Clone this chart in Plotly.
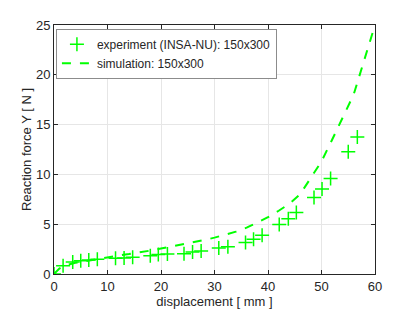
import plotly.graph_objects as go

exp_x = [0, 1.7, 3.5, 5.0, 6.5, 8.1, 11.5, 13.1, 14.7, 18.0, 19.5, 21.2, 24.3, 25.9, 27.5,
         30.8, 32.5, 35.8, 37.3, 38.9, 42.1, 43.8, 45.3, 48.6, 50.1, 51.7, 55.0, 56.7]
exp_y = [0, 0.83, 1.2, 1.33, 1.4, 1.47, 1.57, 1.6, 1.67, 1.84, 1.97, 2.0, 2.04, 2.2, 2.3,
         2.6, 2.74, 3.17, 3.5, 3.9, 4.97, 5.54, 6.17, 7.68, 8.54, 9.6, 12.28, 13.75]

sim_x = [0, 1, 2, 3, 4, 6, 8, 10, 12, 14, 16, 18, 20, 22, 24, 26, 28, 30, 32, 34, 36, 38,
         40, 42, 44, 46, 48, 50, 52, 54, 56, 58, 60]
sim_y = [0, 0.55, 0.85, 1.0, 1.12, 1.3, 1.5, 1.7, 1.85, 2.0, 2.15, 2.35, 2.55, 2.75, 2.95,
         3.15, 3.4, 3.65, 3.95, 4.25, 4.65, 5.15, 5.7, 6.35, 7.05, 8.0, 9.6, 11.3, 13.5,
         15.75, 18.0, 21.5, 25.0]

x_ticks = [0, 10, 20, 30, 40, 50, 60]
y_ticks = [0, 5, 10, 15, 20, 25]

GREEN = "#00ff00"
AX = "#262626"
font = dict(family="Liberation Sans, Arial, sans-serif", size=13, color=AX)
legfont = dict(family="Liberation Sans, Arial, sans-serif", size=12, color=AX)

fig = go.Figure()
fig.add_trace(go.Scatter(
    x=exp_x, y=exp_y, mode="markers", name="experiment (INSA-NU): 150x300",
    marker=dict(symbol="cross-thin-open", size=10, line=dict(color=GREEN, width=1.5), color=GREEN),
))
fig.add_trace(go.Scatter(
    x=sim_x, y=sim_y, mode="lines", name="simulation: 150x300",
    line=dict(color=GREEN, width=2, dash="dash"),
))

axis_common = dict(
    showgrid=True, gridcolor="#e6e6e6", gridwidth=1,
    showline=True, linecolor=AX, linewidth=1, mirror="ticks",
    ticks="inside", ticklen=4, tickcolor=AX,
    zeroline=False, tickfont=font, automargin=False,
)
fig.update_xaxes(range=[0, 60], tickvals=x_ticks, title=dict(text="displacement [ mm ]", font=font, standoff=2), **axis_common)
fig.update_yaxes(range=[0, 25], tickvals=y_ticks, title=dict(text="Reaction force Y [ N ]", font=font, standoff=1), **axis_common)

# page body has an 8px margin, so the figure is drawn 8px in from the window edge
fig.update_layout(
    width=407, height=303,
    margin=dict(l=46, r=40, t=17, b=37),
    paper_bgcolor="white", plot_bgcolor="white",
    font=font,
    showlegend=True,
    legend=dict(x=0.006, y=0.985, xanchor="left", yanchor="top",
                bgcolor="white", bordercolor="#8c8c8c", borderwidth=1,
                font=legfont, tracegroupgap=0, itemwidth=30),
)
fig.write_html("out.html")
